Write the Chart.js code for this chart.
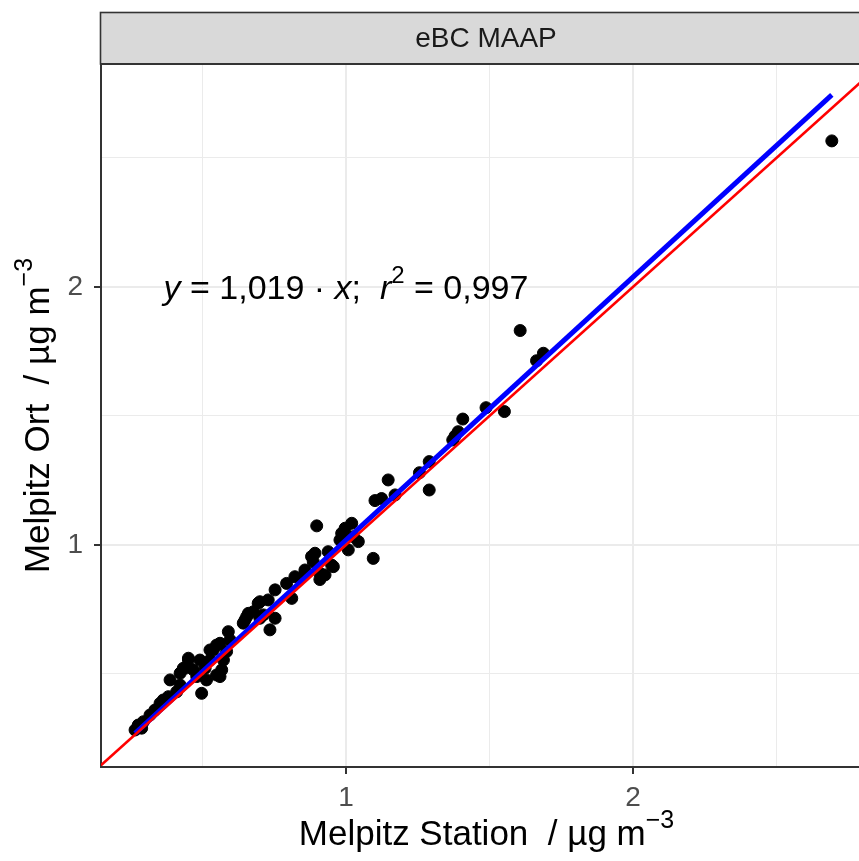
<!DOCTYPE html>
<html>
<head>
<meta charset="utf-8">
<script src="https://cdn.jsdelivr.net/npm/chart.js@4.4.1/dist/chart.umd.min.js"></script>
<style>
  html, body { margin: 0; padding: 0; background: #fff; overflow: hidden; }
  #wrap { width: 872px; height: 861px; }
</style>
</head>
<body>
<div id="wrap"><canvas id="c" width="872" height="861"></canvas></div>
<script>
// Melpitz Station (x) vs Melpitz Ort (y), eBC MAAP, ug/m3
var stationX = [1.607,1.688,1.664,1.552,1.488,1.407,1.380,1.391,1.372,1.290,1.256,1.290,1.147,1.124,1.171,1.101,
  0.898,1.020,0.997,0.985,1.026,0.979,1.043,1.008,1.095,0.892,0.938,0.950,0.886,0.857,0.909,0.956,0.880,0.927,
  0.857,0.822,0.909,0.793,0.753,0.811,0.700,0.729,0.677,0.654,0.712,0.753,0.642,0.694,0.660,0.648,0.700,0.735,
  0.590,0.596,0.549,0.538,0.584,0.526,0.491,0.451,0.439,0.509,0.567,0.561,0.422,0.561,0.451,0.433,0.387,0.468,
  0.497,0.480,0.422,0.381,0.352,0.334,0.317,0.294,0.276,0.265,0.288,0.363,0.410,0.514,0.549,0.573,0.526,2.693];
var ortY = [1.831,1.743,1.714,1.517,1.532,1.488,1.422,1.439,1.407,1.323,1.280,1.213,1.252,1.180,1.194,1.172,
  1.074,1.084,1.065,1.045,1.032,1.019,1.013,0.981,0.948,0.968,0.974,0.922,0.935,0.903,0.890,0.916,0.955,0.884,
  0.890,0.877,0.866,0.851,0.826,0.793,0.780,0.787,0.741,0.722,0.729,0.716,0.697,0.774,0.735,0.709,0.716,0.671,
  0.664,0.632,0.612,0.593,0.587,0.554,0.554,0.554,0.522,0.522,0.516,0.490,0.503,0.619,0.561,0.522,0.477,0.516,
  0.425,0.490,0.457,0.412,0.386,0.360,0.341,0.315,0.302,0.283,0.290,0.399,0.431,0.477,0.496,0.554,0.593,2.566];
var fitSlope = 1.019;
var fitR2 = 0.997;
var xRange = [0.1463, 2.833];
var yRange = [0.1395, 2.864];
var majorTicks = [1, 2];

var points = stationX.map(function(x, i){ return {x: x, y: ortY[i]}; });
var xMin = Math.min.apply(null, stationX), xMax = Math.max.apply(null, stationX);
var fitLine = [{x: xMin, y: fitSlope*xMin}, {x: xMax, y: fitSlope*xMax}];
var oneLine = [{x: xRange[0], y: xRange[0]}, {x: xRange[1], y: xRange[1]}];

var FONT = "'Liberation Sans', Arial, sans-serif";

function isMajor(v){
  return majorTicks.some(function(m){ return Math.abs(m - v) < 1e-6; });
}

function fontFor(style, size){
  if(style == "i"){ return "italic " + size + "px " + FONT; }
  if(style == "s"){ return Math.round(size*0.72) + "px " + FONT; }
  return size + "px " + FONT;
}
function drawParts(ctx, parts, size, cx, cy){
  // parts: [text, style] ; style: '' normal, 'i' italic, 's' superscript
  var total = 0;
  parts.forEach(function(p){
    ctx.font = fontFor(p[1], size);
    p.w = ctx.measureText(p[0]).width;
    total += p.w;
  });
  var x = cx - total/2;
  ctx.textAlign = "left";
  ctx.textBaseline = "alphabetic";
  parts.forEach(function(p){
    ctx.font = fontFor(p[1], size);
    var yy = cy + size*0.36;
    if(p[1] == "s"){ yy = cy - size*0.12; }
    ctx.fillText(p[0], x, yy);
    x += p.w;
  });
}

var decor = {
  id: "decor",
  afterDraw: function(chart){
    var ctx = chart.ctx, a = chart.chartArea;
    var xs = chart.scales.x, ys = chart.scales.y;
    ctx.save();
    // facet strip
    ctx.fillStyle = "#D9D9D9";
    ctx.fillRect(100, 12, a.right - 100 + 5, 52);
    ctx.strokeStyle = "#333333";
    ctx.lineWidth = 1.6;
    ctx.strokeRect(100.5, 12.5, a.right - 100 + 5, 51.5);
    ctx.lineWidth = 2;
    ctx.beginPath(); ctx.moveTo(100, a.top); ctx.lineTo(a.right + 5, a.top); ctx.stroke();
    ctx.fillStyle = "#1A1A1A";
    ctx.font = "28px " + FONT;
    ctx.textAlign = "center";
    ctx.textBaseline = "middle";
    ctx.fillText("eBC MAAP", (100 + a.right)/2, 39);
    // regression annotation at (1, 2)
    ctx.fillStyle = "#000";
    drawParts(ctx, [["y","i"],[" = ",""],[String(fitSlope).replace(".", ","),""],[" \u00b7 ",""],["x","i"],[";  ",""],
      ["r","i"],["2","s"],[" = " + String(fitR2).replace(".", ","),""]], 34, xs.getPixelForValue(1), ys.getPixelForValue(2));
    // axis titles
    drawParts(ctx, [["Melpitz Station  / \u00b5g m",""],["\u22123","s"]], 35, (a.left + a.right)/2, 832);
    ctx.translate(36, (a.top + a.bottom)/2);
    ctx.rotate(-Math.PI/2);
    drawParts(ctx, [["Melpitz Ort  / \u00b5g m",""],["\u22123","s"]], 35, 0, 0);
    ctx.restore();
  }
};

function axis(range, isX){
  return {
    type: "linear",
    min: range[0],
    max: range[1],
    afterFit: function(s){
      if(isX){ s.height = 94; s.paddingLeft = 0; s.paddingRight = 0; } else { s.width = 101; }
    },
    ticks: {
      stepSize: 0.5,
      includeBounds: false,
      padding: isX ? 7 : 11,
      color: "#4D4D4D",
      font: {family: FONT, size: 28},
      callback: function(v){ return isMajor(v) ? String(v) : ""; }
    },
    grid: {
      color: "#EBEBEB",
      lineWidth: function(c){ return isMajor(c.tick.value) ? 2 : 1; },
      tickColor: function(c){ return isMajor(c.tick.value) ? "#333333" : "rgba(0,0,0,0)"; },
      tickLength: 7,
      tickWidth: 2
    },
    border: {display: true, color: "#333333", width: 2}
  };
}

new Chart(document.getElementById("c"), {
  type: "scatter",
  data: {
    datasets: [
      {data: points, backgroundColor: "#000", borderColor: "#000", pointRadius: 6, pointHoverRadius: 6, order: 3},
      {type: "line", data: fitLine, borderColor: "#0000FF", borderWidth: 5, pointRadius: 0, fill: false, order: 2},
      {type: "line", data: oneLine, borderColor: "#FF0000", borderWidth: 2.5, pointRadius: 0, fill: false, order: 1}
    ]
  },
  options: {
    responsive: false,
    animation: false,
    events: [],
    layout: {autoPadding: false, padding: {top: 64, right: 0, left: 0, bottom: 0}},
    plugins: {legend: {display: false}, tooltip: {enabled: false}},
    scales: {x: axis(xRange, true), y: axis(yRange, false)}
  },
  plugins: [decor]
});
</script>
</body>
</html>
